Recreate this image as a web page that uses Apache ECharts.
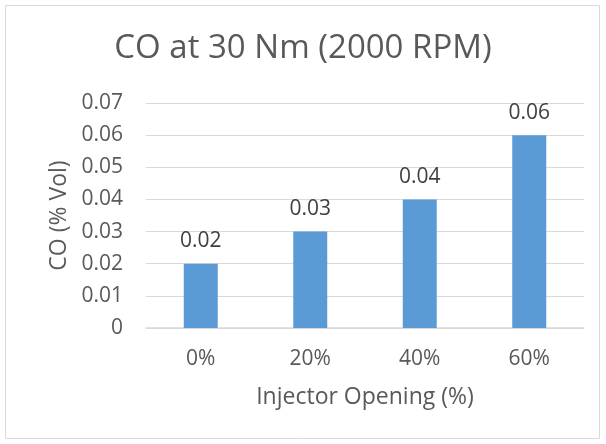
<!DOCTYPE html>
<html><head><meta charset="utf-8">
<script src="https://cdn.jsdelivr.net/npm/echarts@6/dist/echarts.min.js"></script>
<style>html,body{margin:0;padding:0;background:#fff}#c{width:606px;height:444px}</style>
</head><body><div id="c"></div>
<script>
const categories = ['0%', '20%', '40%', '60%'];
const coValues = [0.02, 0.03, 0.04, 0.06];
const titleText = 'CO at 30 Nm (2000 RPM)';
const xName = 'Injector Opening (%)';
const yName = 'CO (% Vol)';
const font = '"Open Sans", "Noto Sans", sans-serif';
const chart = echarts.init(document.getElementById('c'));
chart.setOption({
  animation: false,
  graphic: [{type:'rect', shape:{x:5.5,y:5.5,width:594,height:433}, style:{fill:'none', stroke:'#d9d9d9', lineWidth:1}}],
  title: {text: titleText, left: 'center', top: 27, textStyle:{fontFamily: font, fontSize: 33, fontWeight: 'normal', color:'#595959'}},
  grid: {left:146, right:22, top:103, bottom:116},
  xAxis: {type:'category', data: categories, name: xName, nameLocation:'middle', nameGap:58,
    nameTextStyle:{fontFamily: font, fontSize:23, color:'#595959'},
    axisLine:{lineStyle:{color:'#d9d9d9', width:1.5}}, axisTick:{show:false},
    axisLabel:{fontFamily: font, fontSize:21, color:'#595959', margin:21}},
  yAxis: {type:'value', min:0, max:0.07, interval:0.01, name: yName, nameLocation:'middle', nameGap:74,
    nameTextStyle:{fontFamily: font, fontSize:23, color:'#595959'},
    axisLine:{show:false}, axisTick:{show:false},
    axisLabel:{fontFamily: font, fontSize:21, color:'#595959', margin:23, formatter: v => v === 0 ? '0' : v.toFixed(2)},
    splitLine:{lineStyle:{color:'#d9d9d9', width:1}}},
  series: [{type:'bar', data: coValues, barWidth: 34, itemStyle:{color:'#5b9bd5'},
    label:{show:true, position:'top', distance:12, fontFamily: font, fontSize:21, color:'#404040', formatter: p => p.value.toFixed(2)}}]
});
</script></body></html>
